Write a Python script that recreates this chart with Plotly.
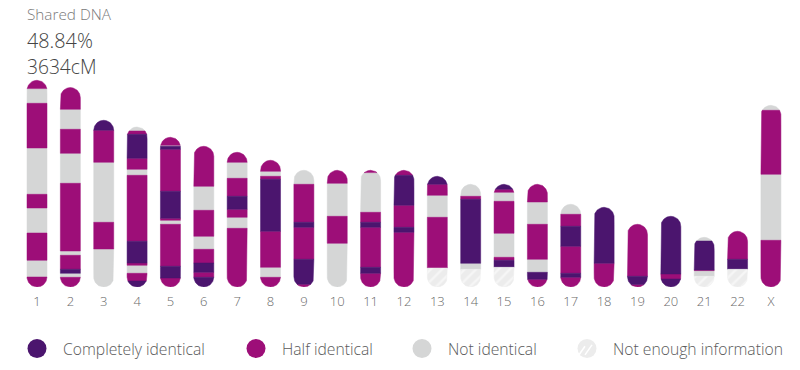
import plotly.graph_objects as go
import numpy as np

# ---------------- data ----------------
chromosomes = [str(i) for i in range(1, 23)] + ["X"]

# chromosome lengths (drawing units along the chromosome)
lengths = [206.7, 199.4, 166.7, 160.0, 149.7, 140.7, 134.7, 126.7, 116.7, 116.7,
           116.7, 116.7, 110.7, 102.7, 102.7, 102.7, 82.7, 79.7, 62.7, 70.7,
           49.7, 55.7, 181.7]

# C = completely identical, H = half identical, N = not identical, U = not enough information
segment_states = [
    ["H", "N", "H", "N", "H", "N", "H", "N", "H"],
    ["H", "N", "H", "N", "H", "N", "H", "C", "N", "H"],
    ["C", "H", "N", "H", "N"],
    ["N", "H", "C", "H", "N", "H", "C", "H", "N", "H", "C"],
    ["H", "N", "C", "H", "C", "H", "N", "H", "C", "H"],
    ["H", "N", "H", "N", "H", "C", "H", "C"],
    ["H", "N", "H", "C", "H", "N", "H"],
    ["H", "N", "H", "C", "H", "N", "H"],
    ["N", "H", "C", "H", "C", "H"],
    ["H", "N", "H", "N"],
    ["H", "N", "H", "C", "H", "C", "H"],
    ["H", "C", "H", "C", "H"],
    ["C", "H", "N", "H", "U"],
    ["N", "H", "C", "N", "U"],
    ["C", "H", "N", "H", "N", "H", "C", "U"],
    ["H", "N", "H", "N", "C", "H"],
    ["N", "H", "C", "H", "C", "H"],
    ["C", "H"],
    ["H", "C", "H"],
    ["C", "H", "C"],
    ["N", "C", "H", "N", "U"],
    ["H", "C", "U"],
    ["N", "H", "N", "H"],
]

# end position of each segment, measured from the top of the chromosome
segment_ends = [
    [8.3, 23, 67.7, 114, 127.7, 152.7, 180, 196.7, 206.7],
    [21.7, 41.7, 65.7, 95.7, 163.4, 167.7, 181.7, 185.7, 189.7, 199.4],
    [10, 42, 102, 128.7, 166.7],
    [4, 7.3, 31.3, 42.3, 48.3, 114.3, 136, 138.3, 146.3, 154, 160],
    [8, 9, 12, 54, 81, 83, 87, 129, 140.7, 149.7],
    [40, 64, 90, 103, 116.7, 126, 131, 140.7],
    [10, 26, 44, 57, 65, 76, 134.7],
    [11, 16, 19, 71, 107, 117, 126.7],
    [14, 52, 57, 89, 114, 116.7],
    [13, 46, 73, 116.7],
    [2.3, 42, 52, 57, 97, 103, 116.7],
    [5, 35, 57, 62, 116.7],
    [8, 19, 41, 91.7, 110.7],
    [12, 15, 79, 85, 102.7],
    [5, 8, 17, 49, 73, 76, 83, 102.7],
    [17.7, 40, 75, 88, 95, 102.7],
    [10, 22, 42, 69, 73, 82.7],
    [56, 79.7],
    [52, 60.3, 62.7],
    [57.7, 62.7, 70.7],
    [3.7, 32.7, 33.3, 39, 49.7],
    [28, 38, 55.7],
    [5, 69, 135, 181.7],
]

state_names = {"C": "Completely identical", "H": "Half identical",
               "N": "Not identical", "U": "Not enough information"}
state_colors = {"C": "#4b156e", "H": "#9d0e78", "N": "#d5d6d6", "U": "#ececec"}

shared_label = "Shared DNA"
shared_percent = "48.84%"
shared_cm = "3634cM"

FONT = "Open Sans"

# ---------------- geometry ----------------
W, H = 800, 370
M_L, M_R, M_T, M_B = 0, 0, 10, 83
PLOT_W = W - M_L - M_R
PLOT_H = H - M_T - M_B
STEP_PX = 33.36             # pixel distance between neighbouring chromosomes
FIRST_PX = 37               # pixel position of the first chromosome
X0 = -FIRST_PX / STEP_PX
X1 = X0 + PLOT_W / STEP_PX
Y_RANGE = [0, PLOT_H]       # one drawing unit per pixel vertically
BAR_PX = 20
RX = (BAR_PX / 2) / STEP_PX  # half bar width in x units
RY = BAR_PX / 2              # cap radius in y units


def half_width(y, L):
    if y > L - RY:
        d = (y - (L - RY)) / RY
    elif y < RY:
        d = (RY - y) / RY
    else:
        return RX
    return RX * np.sqrt(max(0.0, 1 - d * d))


polys = {k: ([], []) for k in state_names}
for i, (L, sts, ends) in enumerate(zip(lengths, segment_states, segment_ends)):
    start = 0.0
    for st, end in zip(sts, ends):
        y_top = L - start
        y_bot = L - end
        n = max(2, int((y_top - y_bot) / 0.4) + 2)
        ys = np.linspace(y_bot, y_top, n)
        left = [i - half_width(y, L) for y in ys]
        right = [i + half_width(y, L) for y in ys[::-1]]
        xs = left + right
        yy = list(ys) + list(ys[::-1])
        xs.append(xs[0]); yy.append(yy[0])
        px, py = polys[st]
        px.extend(xs + [None]); py.extend(yy + [None])
        start = end

fig = go.Figure()
for st in ["N", "H", "C", "U"]:
    px, py = polys[st]
    kw = {}
    if st == "U":
        kw["fillpattern"] = dict(shape="/", bgcolor="#ececec", fgcolor="#ffffff",
                                 size=8, solidity=0.3)
    fig.add_trace(go.Scatter(
        x=px, y=py, mode="lines", fill="toself",
        fillcolor=state_colors[st],
        line=dict(color=state_colors[st], width=0.5),
        name=state_names[st], hoverinfo="skip", showlegend=False, **kw))

# ---------------- legend (drawn manually) ----------------
def paper_x(px):
    return (px - M_L) / PLOT_W


def paper_y(py):
    return (M_T + PLOT_H - py) / PLOT_H


shapes = []
annotations = []
legend_circle_px = [37, 256, 422, 587]
legend_text_px = [62, 281, 447, 612]
LEG_Y = 348.5
R = 9.5
for k, st in enumerate(["C", "H", "N", "U"]):
    cx = legend_circle_px[k]
    shapes.append(dict(type="circle", xref="paper", yref="paper",
                       x0=paper_x(cx - R), x1=paper_x(cx + R),
                       y0=paper_y(LEG_Y + R), y1=paper_y(LEG_Y - R),
                       fillcolor=state_colors[st], line=dict(width=0)))
    if st == "U":
        for off in (-4, 3):
            shapes.append(dict(type="line", xref="paper", yref="paper",
                               x0=paper_x(cx - 5 + off), y0=paper_y(LEG_Y + 5 - off * 0.2 + 2),
                               x1=paper_x(cx + 2 + off), y1=paper_y(LEG_Y - 5 - off * 0.2 + 2),
                               line=dict(color="#ffffff", width=1.5)))
    annotations.append(dict(text=state_names[st], xref="paper", yref="paper",
                            x=paper_x(legend_text_px[k] - 1), y=paper_y(LEG_Y),
                            xanchor="left", yanchor="middle", showarrow=False,
                            font=dict(family=FONT, size=15.7, color="#5a5a5a", weight=300)))

# title texts
annotations.append(dict(text=shared_label, xref="paper", yref="paper",
                        x=paper_x(25), y=paper_y(14), xanchor="left", yanchor="middle",
                        showarrow=False, font=dict(family=FONT, size=15.3, color="#7a7a7a", weight=300)))
annotations.append(dict(text=shared_percent, xref="paper", yref="paper",
                        x=paper_x(25), y=paper_y(40), xanchor="left", yanchor="middle",
                        showarrow=False, font=dict(family=FONT, size=19.8, color="#444444", weight=300)))
annotations.append(dict(text=shared_cm, xref="paper", yref="paper",
                        x=paper_x(25), y=paper_y(66), xanchor="left", yanchor="middle",
                        showarrow=False, font=dict(family=FONT, size=19.2, color="#444444", weight=300)))

fig.update_layout(
    width=W, height=H,
    margin=dict(l=M_L, r=M_R, t=M_T, b=M_B, pad=0),
    paper_bgcolor="white", plot_bgcolor="white",
    showlegend=False,
    shapes=shapes, annotations=annotations,
    xaxis=dict(range=[X0, X1], tickmode="array",
               tickvals=list(range(len(chromosomes))), ticktext=chromosomes,
               showgrid=False, zeroline=False, showline=False, ticks="",
               ticklabelstandoff=5,
               tickfont=dict(family=FONT, size=13, color="#6a6a6a", weight=300), fixedrange=True),
    yaxis=dict(range=Y_RANGE, visible=False, showgrid=False, zeroline=False,
               fixedrange=True),
)

fig.write_html("out.html", config={"displayModeBar": False},
               post_script="document.body.style.margin='0';")
